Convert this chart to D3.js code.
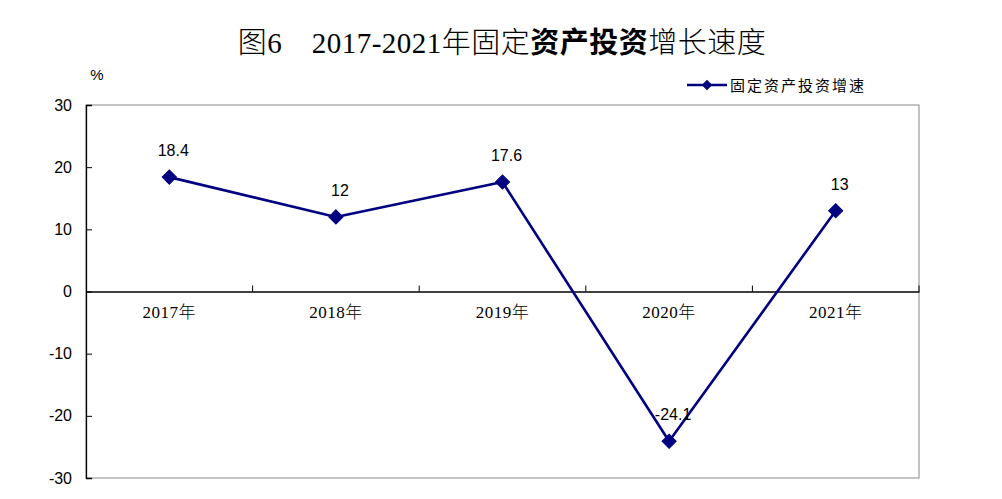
<!DOCTYPE html>
<html>
<head>
<meta charset="utf-8">
<script src="https://cdnjs.cloudflare.com/ajax/libs/d3/7.8.5/d3.min.js"></script>
<style>
  body { margin: 0; background: #fff; }
  svg { display: block; }
</style>
</head>
<body>
<svg id="chart" width="1002" height="499"></svg>
<script>
// data
var years = ["2017年", "2018年", "2019年", "2020年", "2021年"];
var growth = [18.4, 12, 17.6, -24.1, 13];
var yTicks = [-30, -20, -10, 0, 10, 20, 30];
var seriesName = "固定资产投资增速";

var svg = d3.select("#chart"),
    margin = {top: 105, right: 83, bottom: 21, left: 86},
    width = +svg.attr("width") - margin.left - margin.right,
    height = +svg.attr("height") - margin.top - margin.bottom;

var x = d3.scaleBand().domain(years).range([0, width]),
    y = d3.scaleLinear().domain([-30, 30]).range([height, 0]);

var g = svg.append("g")
    .attr("transform", "translate(" + margin.left + "," + margin.top + ")");

// title
var title = svg.append("text")
    .attr("x", 502)
    .attr("y", 53)
    .attr("text-anchor", "middle")
    .style("font-family", "'Liberation Serif', 'Noto Sans CJK SC', serif")
    .style("font-size", "29px")
    .style("font-weight", 300)
    .style("letter-spacing", "0.5px")
    .style("fill", "#000");
title.append("tspan").text("图6\u3000");
title.append("tspan").text("2017-2021年固定");
title.append("tspan").style("font-weight", "bold").text("资产投资");
title.append("tspan").text("增长速度");

// plot border (grey)
g.append("rect")
    .attr("x", 0).attr("y", 0)
    .attr("width", width).attr("height", height)
    .attr("fill", "none")
    .attr("stroke", "#888")
    .attr("stroke-width", 1);

// y axis
var yAxis = g.append("g")
    .attr("class", "axis axis--y")
    .call(d3.axisLeft(y).tickValues(yTicks).tickSize(-6).tickPadding(14)
      .tickFormat(function(d) { return String(d); }));
yAxis.select(".domain").attr("stroke", "#000").attr("stroke-width", 1.3);
yAxis.selectAll("line").attr("stroke", "#000");
yAxis.selectAll("text")
    .style("font-family", "'Liberation Sans', Arial, sans-serif")
    .style("font-size", "16px")
    .attr("fill", "#000");

svg.append("text")
    .attr("x", 97)
    .attr("y", 80)
    .attr("text-anchor", "middle")
    .style("font-family", "'Liberation Sans', Arial, sans-serif")
    .style("font-size", "15px")
    .text("%");

// x axis on the zero line, ticks pointing up
var xAxis = g.append("g")
    .attr("class", "axis axis--x")
    .attr("transform", "translate(0," + y(0) + ")")
    .call(d3.axisBottom(x).tickSize(0).tickPadding(14));
xAxis.select(".domain").attr("stroke", "#000").attr("stroke-width", 1.3);
xAxis.selectAll("text")
    .style("font-family", "'Liberation Serif', 'Noto Sans CJK SC', serif")
    .style("font-size", "17px")
    .style("font-weight", 300)
    .style("letter-spacing", "0.5px")
    .attr("fill", "#000");

var bounds = years.map(function(d) { return x(d); }).concat([width]);
xAxis.selectAll(".sep")
    .data(bounds.slice(1))
    .enter().append("line")
      .attr("class", "sep")
      .attr("x1", function(d) { return d; })
      .attr("x2", function(d) { return d; })
      .attr("y1", 0)
      .attr("y2", -6)
      .attr("stroke", "#000");

// line
var cx = function(d, i) { return x(years[i]) + x.bandwidth() / 2; };
var line = d3.line()
    .x(cx)
    .y(function(d) { return y(d); });

g.append("path")
    .datum(growth)
    .attr("fill", "none")
    .attr("stroke", "#000080")
    .attr("stroke-width", 2.6)
    .attr("stroke-linejoin", "round")
    .attr("d", line);

var diamond = d3.symbol().type(d3.symbolSquare).size(100);
g.selectAll(".dot")
    .data(growth)
    .enter().append("path")
      .attr("class", "dot")
      .attr("d", diamond)
      .attr("fill", "#000080")
      .attr("stroke", "#000080")
      .attr("transform", function(d, i) {
        return "translate(" + cx(d, i) + "," + y(d) + ") rotate(45)";
      });

g.selectAll(".val")
    .data(growth)
    .enter().append("text")
      .attr("class", "val")
      .attr("x", function(d, i) { return cx(d, i) + 4; })
      .attr("y", function(d) { return y(d) - 21; })
      .attr("text-anchor", "middle")
      .style("font-family", "'Liberation Sans', Arial, sans-serif")
      .style("font-size", "16px")
      .text(function(d) { return String(d); });

// legend
var legend = svg.append("g").attr("transform", "translate(687,85)");
legend.append("line")
    .attr("x1", 0).attr("x2", 40)
    .attr("y1", 0).attr("y2", 0)
    .attr("stroke", "#000080")
    .attr("stroke-width", 2.6);
legend.append("path")
    .attr("d", d3.symbol().type(d3.symbolSquare).size(56))
    .attr("transform", "translate(20,0) rotate(45)")
    .attr("fill", "#000080");
legend.append("text")
    .attr("x", 43)
    .attr("y", 6)
    .style("font-family", "'Noto Sans CJK SC', sans-serif")
    .style("font-size", "15px")
    .style("letter-spacing", "2px")
    .text(seriesName);
</script>
</body>
</html>
